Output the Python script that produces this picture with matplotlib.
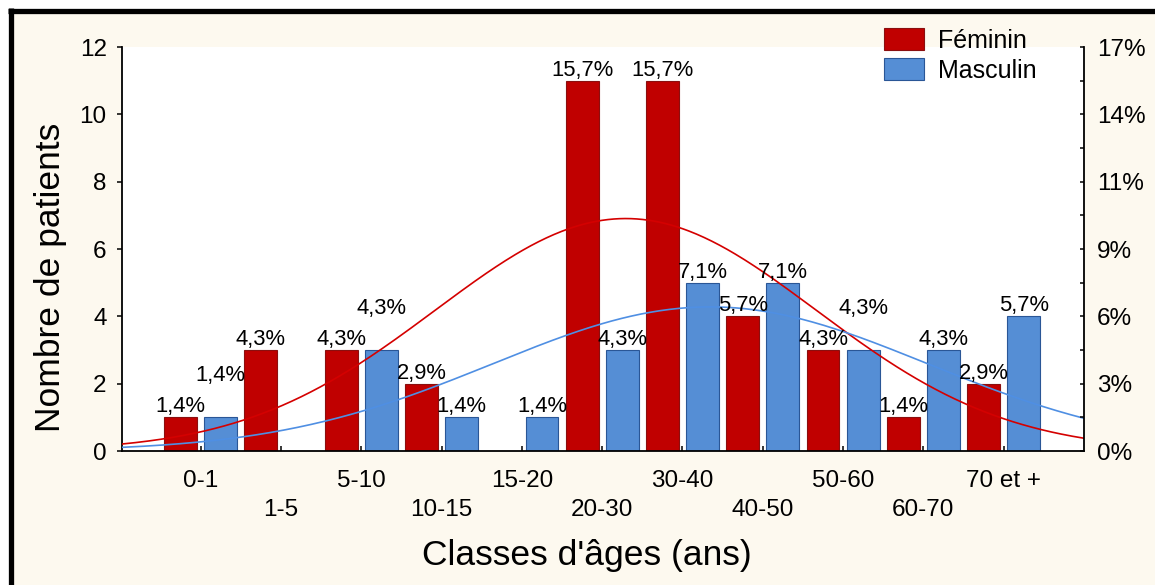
import numpy as np
import matplotlib
matplotlib.use("Agg")
import matplotlib.pyplot as plt
from matplotlib.patches import Rectangle
from matplotlib.lines import Line2D

plt.rcParams['font.family'] = ['Liberation Sans', 'DejaVu Sans']

# Patients per age class and sex
age_classes = ["0-1", "1-5", "5-10", "10-15", "15-20", "20-30",
               "30-40", "40-50", "50-60", "60-70", "70 et +"]
feminin = [1, 3, 3, 2, 0, 11, 11, 4, 3, 1, 2]
masculin = [1, 0, 3, 1, 1, 3, 5, 5, 3, 3, 4]
count_ticks = [0, 2, 4, 6, 8, 10, 12]

total = sum(feminin) + sum(masculin)

RED, RED_EDGE, RED_LINE = '#c00000', '#8a0f0f', '#d40000'
BLUE, BLUE_EDGE, BLUE_LINE = '#558ed5', '#2a5696', '#4f8fe3'

W, H = 1155, 585
fig = plt.figure(figsize=(W / 100, H / 100), dpi=100, facecolor='white')
fig.patches.append(Rectangle((13 / W, 0), 1, 1 - 13 / H, transform=fig.transFigure,
                             facecolor='#fdf9ef', edgecolor='none', zorder=-5))
fig.lines.append(Line2D([8 / W, 1], [1 - 10.5 / H] * 2, transform=fig.transFigure,
                        color='black', lw=3.8, solid_capstyle='butt', zorder=5))
fig.lines.append(Line2D([10.5 / W] * 2, [0, 1 - 8 / H], transform=fig.transFigure,
                        color='black', lw=3.8, solid_capstyle='butt', zorder=5))

ax = fig.add_axes([122 / W, 1 - 451 / H, (1084 - 122) / W, (451 - 47) / H])
ax.set_facecolor('white')

x = np.arange(len(age_classes))
offset, width = 0.25, 0.41
ax.bar(x - offset, feminin, width=width, color=RED, edgecolor=RED_EDGE,
       linewidth=0.8, label='Féminin', zorder=2)
ax.bar(x + offset, masculin, width=width, color=BLUE, edgecolor=BLUE_EDGE,
       linewidth=0.8, label='Masculin', zorder=2)

# Fitted normal curves (scaled to counts per class)
xlim = (-0.98, 11.0)
xs = np.linspace(xlim[0], xlim[1], 500)
for counts, col in ((feminin, RED_LINE), (masculin, BLUE_LINE)):
    obs = np.repeat(x, counts)
    mu, sd = obs.mean(), obs.std(ddof=1)
    dens = len(obs) / (sd * np.sqrt(2 * np.pi)) * np.exp(-0.5 * ((xs - mu) / sd) ** 2)
    ax.plot(xs, dens, color=col, lw=1.2, zorder=3)

# Percentage labels; a few are lifted to keep them clear of neighbours
lifted = {("M", 0), ("M", 2), ("M", 8)}
for key, counts, dx in (("F", feminin, -offset), ("M", masculin, offset)):
    for i, v in enumerate(counts):
        if v == 0:
            continue
        lift = 25.8 if (key, i) in lifted else 3.5
        txt = f"{v / total * 100:.1f}".replace('.', ',') + "%"
        ax.annotate(txt, xy=(i + dx, v), xytext=(0, lift), textcoords='offset points',
                    ha='center', va='baseline', fontsize=15.8, zorder=4)

ax.set_xlim(*xlim)
ax.set_ylim(0, 12)
ax.spines['top'].set_visible(False)
ax.spines['right'].set_visible(False)
for s in ('left', 'bottom'):
    ax.spines[s].set_linewidth(1.3)

ax.set_yticks(count_ticks)
ax.tick_params(axis='y', direction='out', length=3.8, width=1.1, labelsize=17.5, pad=7.2)

ax.set_xticks(x[::2], labels=age_classes[::2])
ax.set_xticks(x[1::2], labels=age_classes[1::2], minor=True)
ax.tick_params(axis='x', which='both', direction='in', length=3.8, width=1.1, labelsize=17.5)
ax.tick_params(axis='x', which='major', pad=13.7)
ax.tick_params(axis='x', which='minor', pad=34.5)

ax.set_ylabel("Nombre de patients", fontsize=25.5, va='center')
ax.yaxis.set_label_coords(-0.0744, 0.43)
ax.set_xlabel("Classes d'âges (ans)", fontsize=25.5, va='center')
ax.xaxis.set_label_coords(0.483, -0.258)

# Right axis: share of all patients
ax2 = ax.twinx()
ax2.set_ylim(0, 12)
ax2.set_yticks(count_ticks, labels=[f"{round(v / total * 100)}%" for v in count_ticks])
ax2.set_yticks(range(1, 12, 2), minor=True)
ax2.tick_params(axis='y', which='both', direction='in', length=3.2, width=1.1,
                labelsize=17.5, pad=9.4)
for s in ('top', 'left', 'bottom'):
    ax2.spines[s].set_visible(False)
ax2.spines['right'].set_linewidth(1.3)
ax2.patch.set_visible(False)

handles, labels = ax.get_legend_handles_labels()
fig.legend(handles, labels, loc='upper left', bbox_to_anchor=(884 / W, 1 - 28 / H),
           frameon=False, fontsize=18, handlelength=1.6, handleheight=1.0,
           handletextpad=0.56, labelspacing=0.2, borderpad=0, borderaxespad=0)

fig.savefig("out.png", dpi=100, facecolor=fig.get_facecolor())
